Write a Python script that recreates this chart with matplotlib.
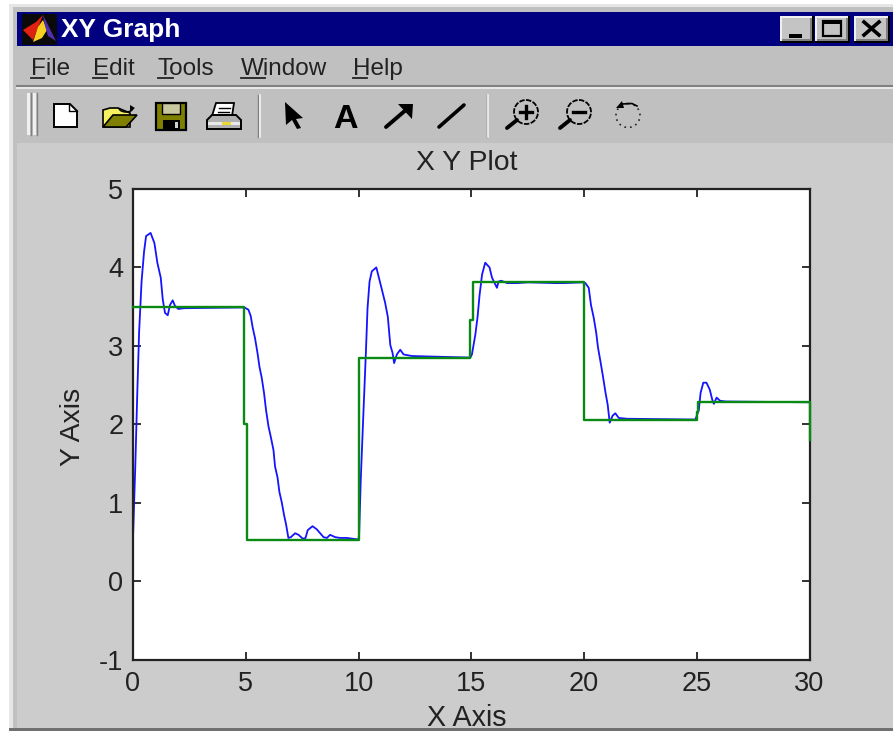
import matplotlib
matplotlib.use("Agg")
import matplotlib.pyplot as plt
from matplotlib.patches import Rectangle, Polygon, Circle, Arc

plt.rcParams['font.family'] = ['Liberation Sans', 'DejaVu Sans']
plt.rcParams['axes.unicode_minus'] = False

# ---- data ----
green_x = [0, 4.94, 4.94, 5.05, 5.05, 10.0, 10.0, 14.96, 14.96, 15.06, 15.06,
           20.02, 20.02, 24.99, 24.99, 25.06, 25.06, 30, 30]
green_y = [3.49, 3.49, 2.0, 2.0, 0.53, 0.53, 2.85, 2.85, 3.33, 3.33, 3.81,
           3.81, 2.06, 2.06, 2.16, 2.16, 2.28, 2.28, 1.8]

blue_x = [0, 0.1, 0.19, 0.27, 0.38, 0.49, 0.58, 0.78, 0.95, 1.08, 1.23, 1.32, 1.42,
          1.54, 1.64, 1.76, 1.86, 2.01, 2.26, 4.94,
          5.12, 5.22, 5.31, 5.41, 5.52, 5.61, 5.71, 5.81, 5.9, 6.01, 6.11, 6.23, 6.3,
          6.41, 6.49, 6.6, 6.7, 6.79, 6.89, 7.0, 7.19, 7.34, 7.53, 7.65, 7.75, 7.96,
          8.15, 8.45, 8.6, 8.74, 8.97, 9.19, 9.49, 10.0,
          10.03, 10.1, 10.22, 10.33, 10.4, 10.49, 10.59, 10.79, 10.93, 11.06, 11.18,
          11.3, 11.41, 11.51, 11.58, 11.7, 11.85, 12.0, 12.37, 14.96,
          15.03, 15.18, 15.28, 15.37, 15.48, 15.62, 15.81, 15.92, 16.07, 16.14, 16.21,
          16.33, 16.59, 17.03, 17.53, 18.73, 19.09, 19.97,
          20.06, 20.21, 20.31, 20.43, 20.54, 20.62, 20.73, 20.83, 20.95, 21.05, 21.14,
          21.27, 21.39, 21.54, 21.91, 24.94,
          25.09, 25.17, 25.29, 25.43, 25.58, 25.69, 25.76, 25.88, 26.03, 26.28, 30]
blue_y = [0.55, 1.45, 2.4, 3.17, 3.82, 4.2, 4.4, 4.44, 4.31, 4.06, 3.87, 3.59, 3.42,
          3.39, 3.52, 3.58, 3.51, 3.47, 3.48, 3.49,
          3.46, 3.38, 3.23, 3.10, 2.91, 2.73, 2.59, 2.40, 2.18, 1.97, 1.84, 1.67, 1.46,
          1.32, 1.14, 1.0, 0.84, 0.72, 0.55, 0.56, 0.61, 0.59, 0.54, 0.55, 0.65, 0.70,
          0.66, 0.56, 0.55, 0.59, 0.56, 0.55, 0.55, 0.53,
          0.61, 1.29, 2.16, 2.93, 3.48, 3.82, 3.95, 4.0, 3.84, 3.69, 3.55,
          3.37, 3.01, 2.91, 2.78, 2.89, 2.95, 2.89, 2.87, 2.85,
          2.89, 3.14, 3.37, 3.65, 3.91, 4.06, 4.0, 3.87, 3.78, 3.74, 3.82,
          3.83, 3.8, 3.8, 3.81, 3.8, 3.8, 3.81,
          3.8, 3.74, 3.52, 3.36, 3.17, 2.98, 2.8, 2.63, 2.41, 2.25, 2.02,
          2.11, 2.14, 2.08, 2.07, 2.06,
          2.18, 2.4, 2.53, 2.53, 2.44, 2.31, 2.26, 2.34, 2.3, 2.29, 2.28]

x_ticks = [0, 5, 10, 15, 20, 25, 30]
y_ticks = [-1, 0, 1, 2, 3, 4, 5]
menu_items = [("File", 31, 44), ("Edit", 93, 107), ("Tools", 158, 173),
              ("Window", 241, 265), ("Help", 353, 367)]

W, H = 893, 731
fig = plt.figure(figsize=(W / 100, H / 100), dpi=100, facecolor='white')

# ---- window chrome, in pixel coordinates ----
c = fig.add_axes([0, 0, 1, 1], zorder=0)
c.set_xlim(0, W); c.set_ylim(H, 0); c.axis('off')


def rect(x0, y0, x1, y1, fc, ec='none', lw=0, z=1):
    c.add_patch(Rectangle((x0, y0), x1 - x0, y1 - y0, fc=fc, ec=ec, lw=lw, zorder=z))


def poly(pts, fc, ec='none', lw=0, z=3):
    c.add_patch(Polygon(pts, closed=True, fc=fc, ec=ec, lw=lw, zorder=z, joinstyle='miter'))


def line(xs, ys, col='black', lw=1.5, z=3, **kw):
    c.plot(xs, ys, color=col, lw=lw, zorder=z, **kw)


rect(9, 4, W, 731, '#e6e6e6')
rect(13, 7, W, 728, '#c0c0c0')
rect(9, 728, W, 731, '#707070')
rect(17, 12, W, 46, '#000080')
rect(17, 143, W, 728, '#cccccc')
line([17, W], [85.5, 85.5], '#808080', 1.5)
line([17, W], [88, 88], '#f0f0f0', 1.2)

# MATLAB logo
rect(22, 14, 57, 45, '#0a0a0a', z=2)
poly([(23, 30), (36, 22), (43, 15), (38, 28), (33, 40)], '#e02010')
poly([(33, 42), (38, 27), (43, 20), (47, 30), (42, 38)], '#f8d020')
poly([(43, 15), (56, 41), (48, 36), (45, 26)], '#5030b0')
c.text(61, 30, "XY Graph", color='white', fontsize=18.9, fontweight='bold', va='center', ha='left', zorder=4)

# window buttons
for x0, x1 in [(780, 812), (815, 848), (854, 888)]:
    rect(x0, 16, x1 + 1.5, 42.5, '#000000', z=2)
    rect(x0, 16, x1, 41, '#f0f0f0', z=2)
    rect(x0 + 2, 18, x1, 41, '#808080', z=2)
    rect(x0 + 2, 18, x1 - 2, 39, '#c4c4c4', z=2)
rect(789, 34, 802, 37.5, 'black', z=3)
rect(823, 21, 841, 36, 'none', 'black', 1.6, z=3)
rect(823, 21, 841, 24, 'black', z=3)
line([864, 879], [22, 35], lw=2.6)
line([864, 879], [35, 22], lw=2.6)

# menu
for name, x0, x1 in menu_items:
    c.text(x0, 75, name, fontsize=17.5, color='#222222', va='baseline', ha='left', zorder=4)
    line([x0, x1], [77.5, 77.5], '#222222', 1.3)

# toolbar grip and separators
for x in (28, 34):
    rect(x - 1, 93, x + 2, 135, '#f0f0f0', z=2)
    line([x + 2.5, x + 2.5], [93, 135], '#808080', 1.0)
for x in (258, 486.5):
    line([x, x], [95, 137], '#808080', 1.0)
    line([x + 1.5, x + 1.5], [95, 137], '#f4f4f4', 1.2)

# new document
poly([(54, 104), (70, 104), (77, 111), (77, 127), (54, 127)], 'white', 'black', 1.4)
line([69, 69, 77], [104, 111, 111], lw=1.0)

# open folder
poly([(103, 127), (103, 110), (110, 108), (118, 108), (130, 113), (130, 127)], '#f4f060', 'black', 1.2)
poly([(103, 127), (113, 115), (137, 115), (126, 127)], '#808000', 'black', 1.2)
c.add_patch(Arc((126, 108), 14, 8, theta1=180, theta2=360, angle=180, color='black', lw=1.1, zorder=4))
poly([(130, 105), (135, 108), (130, 111)], 'black')

# save
rect(156, 103, 186, 130, '#808000', 'black', 1.6, z=3)
rect(162, 103, 180, 114, '#c8c8a0', 'black', 1.0, z=3)
rect(163, 120, 180, 130, 'black', z=3)
rect(175, 122, 178, 128, '#d0d0d0', z=4)

# print
poly([(212, 116), (216, 103), (234, 103), (232, 116)], 'white', 'black', 1.3)
line([219, 230], [108, 108], lw=1)
line([218, 229], [112, 112], lw=1)
poly([(207, 120), (212, 115), (236, 115), (241, 120), (241, 129), (207, 129)], '#b0b0b0', 'black', 1.4)
rect(208, 122, 240, 124.5, '#e8e8e8', z=4)
rect(222, 122, 231, 125, '#e8d830', z=5)

# pointer
poly([(285, 102), (303, 118), (296, 119), (301, 128), (297, 129), (292, 120), (286, 125)], 'black')

# text tool
c.text(345.5, 128, "A", fontsize=24.5, fontweight='bold', ha='center', va='baseline', color='black', zorder=4)

# arrow and line tools
line([386, 407], [127, 109], lw=2.8, solid_capstyle='round')
poly([(398, 104), (413, 104), (412, 119)], 'black')
line([439, 464], [127, 105], lw=2.6, solid_capstyle='round')

# zoom tools
for cx, mark in [(526, '+'), (579, '-')]:
    c.add_patch(Circle((cx, 112), 12, fc='none', ec='black', lw=1.3, ls=(0, (3, 0.8)), zorder=3))
    line([cx - 19, cx - 9], [128, 120], lw=2.8, solid_capstyle='round')
    line([cx - 6, cx + 6], [112, 112], lw=2.4)
    if mark == '+':
        line([cx, cx], [106, 118], lw=2.4)

# rotate tool
c.add_patch(Circle((628, 115.5), 12, fc='none', ec='#222222', lw=1.2, ls=(0, (1, 2.4)), zorder=3))
line([622, 632, 637], [104, 103.5, 106], lw=1.2)
poly([(616, 108), (622, 101), (624, 108)], 'black')

# ---- the plot ----
ax = fig.add_axes([133 / W, 1 - 659.5 / H, (809.5 - 133) / W, (659.5 - 189) / H], zorder=2)
ax.set_facecolor('white')
ax.plot(blue_x, blue_y, color='#1414ff', lw=1.3, zorder=2)
ax.plot(green_x, green_y, color='#0a8a14', lw=1.7, zorder=3, clip_on=False)
ax.set_xlim(0, 30)
ax.set_ylim(-1, 5)
ax.set_xticks(x_ticks)
ax.set_yticks(y_ticks)
ax.tick_params(direction='in', length=5.8, width=1.3, top=True, right=True, labelsize=19.5,
               labelcolor='#222222', pad=7, color='#222222')
ax.tick_params(axis='x', pad=8)
for s in ax.spines.values():
    s.set_linewidth(1.6)
    s.set_color('#222222')
fig.text(467 / W, 1 - 163 / H, "X Y Plot", fontsize=20.4, color='#222222', ha='center', va='center')
ax.set_xlabel("X Axis", fontsize=20.6, color='#222222')
ax.xaxis.set_label_coords((467 - 133) / 676.5, (659.5 - 718) / 470.5)
ax.xaxis.label.set_va('center')
ax.set_ylabel("Y Axis", fontsize=20.4, color='#222222')
ax.yaxis.set_label_coords((73 - 133) / 676.5, (659.5 - 427) / 470.5)
ax.yaxis.label.set_va('center')

fig.savefig('out.png', dpi=100)
